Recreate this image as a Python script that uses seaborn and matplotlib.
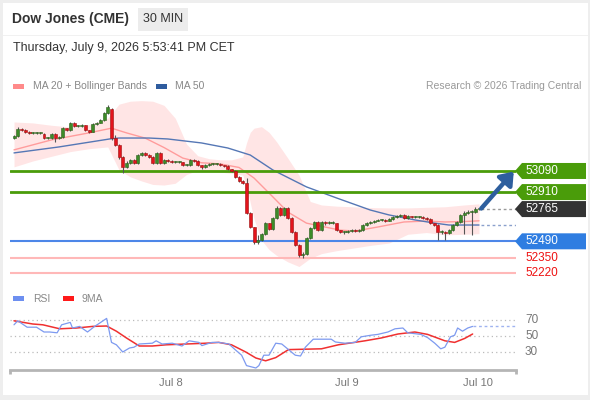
import numpy as np
import pandas as pd
import matplotlib
matplotlib.use("Agg")
import matplotlib.pyplot as plt
from matplotlib.patches import Rectangle, Polygon
import seaborn as sns

# ---------------- data ----------------
opens = [53375,53390,53450,53440,53425,53415,53415,53415,53405,53370,
 53370,53405,53370,53380,53455,53440,53500,53475,53475,53480,
 53440,53425,53490,53500,53525,53585,53620,53370,53310,53210,
 53125,53160,53185,53160,53225,53245,53225,53210,53160,53245,
 53160,53185,53175,53165,53165,53165,53140,53140,53185,53175,
 53140,53125,53140,53150,53150,53150,53140,53135,53105,53090,
 53040,53005,52990,52730,52610,52485,52500,52555,52645,52595,
 52690,52775,52715,52775,52690,52570,52460,52375,52380,52520,
 52605,52655,52585,52655,52645,52645,52645,52585,52570,52570,
 52580,52585,52580,52585,52630,52645,52655,52665,52670,52670,
 52665,52680,52700,52705,52715,52690,52705,52700,52700,52700,
 52690,52680,52645,52630,52570,52570,52560,52585,52630,52655,
 52715,52730,52740,52740,52765]
closes = [53390,53450,53440,53425,53415,53415,53415,53415,53370,53370,
 53405,53370,53380,53455,53440,53500,53475,53475,53480,53440,
 53425,53490,53500,53525,53585,53635,53370,53310,53210,53125,
 53160,53185,53160,53225,53245,53225,53210,53160,53245,53160,
 53185,53175,53165,53165,53165,53140,53140,53185,53175,53140,
 53125,53140,53150,53150,53150,53140,53135,53105,53090,53040,
 53005,52990,52730,52610,52485,52500,52555,52645,52595,52690,
 52775,52715,52775,52690,52570,52460,52375,52380,52520,52605,
 52655,52585,52655,52645,52645,52645,52585,52570,52570,52580,
 52585,52580,52585,52630,52645,52655,52665,52670,52670,52665,
 52680,52700,52705,52715,52690,52705,52700,52700,52700,52690,
 52680,52645,52630,52570,52570,52560,52585,52630,52655,52715,
 52730,52740,52740,52765,52765]
highs = [53400,53465,53455,53445,53430,53425,53425,53425,53410,53380,
 53415,53410,53390,53465,53460,53510,53505,53485,53490,53485,
 53440,53495,53510,53535,53595,53650,53630,53395,53320,53215,
 53175,53195,53195,53235,53255,53250,53235,53215,53255,53255,
 53195,53190,53180,53175,53175,53170,53150,53195,53190,53180,
 53145,53150,53160,53160,53160,53155,53145,53140,53110,53095,
 53045,53010,53030,52740,52615,52540,52565,52655,52650,52700,
 52790,52780,52785,52780,52700,52575,52465,52395,52530,52615,
 52665,52660,52665,52665,52660,52660,52650,52590,52580,52590,
 52595,52595,52595,52640,52655,52665,52675,52680,52680,52680,
 52690,52710,52715,52725,52720,52715,52710,52710,52710,52705,
 52695,52685,52650,52635,52585,52580,52595,52640,52665,52725,
 52745,52755,52755,52780,52775]
lows = [53360,53380,53430,53415,53405,53405,53405,53405,53360,53360,
 53360,53340,53365,53370,53430,53430,53465,53465,53465,53430,
 53415,53420,53480,53495,53515,53580,53355,53300,53195,53075,
 53115,53150,53150,53150,53215,53215,53200,53150,53150,53150,
 53150,53165,53155,53155,53155,53130,53130,53135,53165,53130,
 53110,53115,53135,53140,53140,53130,53125,53095,53080,53030,
 52995,52975,52720,52600,52465,52470,52490,52545,52585,52585,
 52680,52705,52705,52680,52560,52450,52355,52350,52370,52510,
 52595,52575,52575,52630,52635,52635,52575,52560,52555,52560,
 52570,52570,52570,52580,52620,52640,52650,52660,52660,52655,
 52660,52670,52690,52695,52680,52680,52690,52690,52690,52680,
 52670,52635,52620,52500,52555,52505,52550,52575,52620,52645,
 52555,52720,52545,52735,52755]

# MA20 (bar index, value)
ma20_idx = [0,10,20,26,30,35,40,45,50,55,60,64,69,73,78,87,91,97,104,110,115,121,124]
ma20_val = [53270,53355,53415,53455,53415,53370,53290,53200,53160,53150,53120,53030,
            52870,52740,52645,52585,52578,52612,52655,52663,52655,52660,52665]

# Bollinger bands (bar index, upper, lower)
bb_idx = [0,5,10,15,20,25,28,31,34,37,40,43,46,49,52,55,58,61,62,63,64,66,68,70,73,76,
          79,82,86,90,95,100,105,110,115,120,124]
bb_up = [53508,53500,53480,53465,53485,53540,53660,53685,53690,53685,53650,53540,
         53320,53220,53195,53185,53185,53210,53330,53420,53455,53468,53420,53340,53200,53055,
         52830,52800,52790,52785,52778,52775,52775,52780,52785,52800,52810]
bb_lo = [53125,53175,53215,53255,53280,53295,53100,53040,53005,52975,52970,52985,
         53060,53095,53090,53080,53070,53055,52960,52820,52680,52500,52420,52370,52315,52275,
         52345,52385,52410,52430,52455,52475,52550,52565,52545,52550,52555]

# MA50
ma50_idx = [0,12,25.5,28,36,41,50,57,63,69,78,86,95,100,107,112,116,124]
ma50_val = [53244,53295,53363,53371,53371,53363,53329,53286,53226,53099,52954,52860,
            52757,52715,52672,52646,52629,52629]

# RSI and its 9MA
rsi_idx = [0,1,3.5,6,8,9.5,11.5,12.7,15,15.6,17.5,19.6,21.5,22.8,24.7,26,27.3,29,30.8,32,
           33.4,36.9,37.9,39.5,42.2,44.8,46.7,49.3,50.1,52.8,54.6,57.3,59.2,60.7,62,64.5,
           65.3,66.6,68,69.8,71.4,73.2,75,76.4,77.7,79.8,82,84.6,85.7,88.3,91,92.6,95.2,
           97,99.7,101.6,103.7,105,108.5,110.3,112.2,113.8,114.9,116.4,117.5,118.3,119.6,
           121,122.3]
rsi_val = [64,69,61,61,55,55,54,64,67,60,62,55,62,66,72,42,39,30,35,36,
           40,41,44,40,41,37.5,44,42,38,42,42,40,32,26,13,10,
           13,26,26,41,40,33,26,25,36,46,46,46,42.5,41,42,49,51,
           52,55,59,60,54,52,48,41,34,36,49,51,60,56,
           60,62]
ma9_idx = [0,5,7.7,12.2,16.7,21,24.7,27.3,30,33.4,36.9,40.6,45.9,51.2,54.6,58,61.8,64.5,
           67.1,69.8,73.2,82,86.5,93.6,97.9,102.4,106.9,110.3,114.9,117.5,120.2,122.3]
ma9_val = [69,65,64,59,60,62,62.5,56,47.5,37.5,37.5,39,40,41,42,39,30,22.5,
           19,23,33,34,39,44,47.5,52.5,55,52,44,42,47,52.5]

# key levels
res_levels = [53090, 52910]
sup_level = 52490
low_levels = [52350, 52220]
last_price = 52765
rsi_grid = [70, 50, 30]
date_ticks = [41.9, 88.8, 123.7]
date_labels = ["Jul 8", "Jul 9", "Jul 10"]

# ---------------- style ----------------
sns.set_theme(style="white")
plt.rcParams['font.family'] = ['Liberation Sans', 'DejaVu Sans']

W, H = 590, 400
fig = plt.figure(figsize=(W / 100, H / 100), dpi=100)
fig.patch.set_facecolor('#eeeeee')

def fx(px):
    return px / W

def fy(py):
    return 1 - py / H

# white card
fig.patches.append(Rectangle((fx(3), fy(395)), fx(585), (392) / H, transform=fig.transFigure,
                             facecolor='white', edgecolor='none', zorder=-10))
fig.patches.append(Rectangle((fx(3), fy(36)), fx(585), 1 / H, transform=fig.transFigure,
                             facecolor='#f1f1f1', edgecolor='none', zorder=-9))

# header
fig.text(fx(12), fy(19), "Dow Jones (CME)", fontsize=10, fontweight='bold', color='#333333',
         va='center', ha='left')
fig.patches.append(Rectangle((fx(138), fy(31)), fx(50), 23 / H, transform=fig.transFigure,
                             facecolor='#ececec', edgecolor='none'))
fig.text(fx(163), fy(19.5), "30 MIN", fontsize=9, color='#333333', va='center', ha='center')
fig.text(fx(13), fy(48), "Thursday, July 9, 2026 5:53:41 PM CET", fontsize=9, color='#333333',
         va='center', ha='left')

# legend row
fig.patches.append(Rectangle((fx(13), fy(89)), fx(11), 5 / H, transform=fig.transFigure,
                             facecolor='#ff8a8a', edgecolor='none'))
fig.text(fx(33), fy(86), "MA 20 + Bollinger Bands", fontsize=7.5, color='#888888', va='center')
fig.patches.append(Rectangle((fx(156), fy(89)), fx(11), 5 / H, transform=fig.transFigure,
                             facecolor='#2f5c9e', edgecolor='none'))
fig.text(fx(175), fy(86), "MA 50", fontsize=7.5, color='#888888', va='center')
fig.text(fx(581), fy(86), "Research \u00a9 2026 Trading Central", fontsize=7.5, color='#999999',
         va='center', ha='right')

# ---------------- price panel ----------------
x_lo, x_hi = -4 / 3.75, 502 / 3.75
ax = fig.add_axes([fx(10), fy(282), fx(506), 187 / H])
ax.set_xlim(x_lo, x_hi)
ax.set_ylim(52143, 53738)
ax.set_facecolor('none')
for s in ax.spines.values():
    s.set_visible(False)
ax.set_xticks([])
ax.set_yticks([])

ax.fill_between(bb_idx, bb_lo, bb_up, color='#ffe1e1', alpha=0.85, linewidth=0, zorder=1)
sns.lineplot(x=ma20_idx, y=ma20_val, ax=ax, color='#ff9c9c', linewidth=1, zorder=2,
             legend=False)
sns.lineplot(x=ma50_idx, y=ma50_val, ax=ax, color='#5577b5', linewidth=1, zorder=2,
             legend=False)

for lv in res_levels:
    ax.axhline(lv, color='#4a9c0a', linewidth=2, zorder=3)
ax.axhline(sup_level, color='#4d86e8', linewidth=1.5, zorder=3)
for lv in low_levels:
    ax.axhline(lv, color='#ffb8b8', linewidth=1.5, zorder=3)

df = pd.DataFrame({'o': opens, 'h': highs, 'l': lows, 'c': closes})
df['i'] = np.arange(len(df))
up = df['c'] >= df['o']
ax.vlines(df['i'], df['l'], df['h'], color='#555555', linewidth=0.8, zorder=4)
body_h = np.maximum((df['c'] - df['o']).abs(), 7)
body_b = np.minimum(df['o'], df['c'])
ax.bar(df['i'][up], body_h[up], bottom=body_b[up], width=0.8, color='#3d8b28',
       edgecolor='#2a5e1c', linewidth=0.4, zorder=5)
ax.bar(df['i'][~up], body_h[~up], bottom=body_b[~up], width=0.8, color='#e3141c',
       edgecolor='#9c1010', linewidth=0.4, zorder=5)

n_last = len(df) - 1
ax.hlines(last_price, n_last + 0.5, x_hi, color='#999999', linestyles=(0, (2, 2)),
          linewidth=1, zorder=3)
ax.hlines(ma50_val[-1], n_last + 0.5, x_hi, color='#8aa0cc', linestyles=(0, (2, 2)),
          linewidth=1, zorder=3)

ax.annotate("", xy=(x_hi - 0.6, res_levels[0] - 5), xytext=(n_last + 0.6, last_price + 5),
            arrowprops=dict(arrowstyle='-|>,head_length=0.6,head_width=0.45', color='#2e5f9e',
                            lw=3.2, shrinkA=0, shrinkB=0), zorder=6)

# right tags
ytr = ax.get_yaxis_transform()
halfh = 8 * 8.53
tip = 1.0 - 1 / 506
bl = (522 - 10) / 506
br = (586 - 10) / 506
tags = [(res_levels[0], '#4a9c0a'), (res_levels[1], '#4a9c0a'), (last_price, '#333333'),
        (sup_level, '#2f7de1')]
for lv, col in tags:
    poly = Polygon([(tip, lv), (bl, lv + halfh), (br, lv + halfh), (br, lv - halfh),
                    (bl, lv - halfh)], closed=True, transform=ytr, facecolor=col,
                   edgecolor='none', clip_on=False, zorder=7)
    ax.add_patch(poly)
    ax.text((525 - 10) / 506, lv, f"{lv}", transform=ytr, color='white', fontsize=8.5,
            va='center', ha='left', zorder=8, clip_on=False)
for lv in low_levels:
    ax.text((525 - 10) / 506, lv, f"{lv}", transform=ytr, color='#ee1111', fontsize=8.5,
            va='center', ha='left', zorder=8, clip_on=False)

# ---------------- RSI panel ----------------
fig.patches.append(Rectangle((fx(13), fy(301)), fx(11), 5 / H, transform=fig.transFigure,
                             facecolor='#6d8ff0', edgecolor='none'))
fig.text(fx(33), fy(298.5), "RSI", fontsize=7.5, color='#888888', va='center')
fig.patches.append(Rectangle((fx(63), fy(301)), fx(11), 5 / H, transform=fig.transFigure,
                             facecolor='#ff1a1a', edgecolor='none'))
fig.text(fx(82), fy(298.5), "9MA", fontsize=7.5, color='#888888', va='center')

ar = fig.add_axes([fx(10), fy(370), fx(506), 70 / H])
ar.set_xlim(x_lo, x_hi)
ar.set_ylim(7.5, 95)
ar.set_facecolor('none')
for k, s in ar.spines.items():
    s.set_visible(k == 'bottom')
ar.spines['bottom'].set_color('#b5b5b5')
ar.spines['bottom'].set_linewidth(2)
for g in rsi_grid:
    ar.axhline(g, color='#bbbbbb', linestyle=(0, (1, 2.5)), linewidth=0.9, zorder=1)
    ar.text((525 - 10) / 506, g, str(g), transform=ar.get_yaxis_transform(), fontsize=8.5,
            color='#777777', va='center', ha='left', clip_on=False)

sns.lineplot(x=ma9_idx, y=ma9_val, ax=ar, color='#f03030', linewidth=1.1, zorder=3,
             legend=False)
sns.lineplot(x=rsi_idx, y=rsi_val, ax=ar, color='#7d9af0', linewidth=0.9, zorder=4,
             legend=False)
ar.hlines(rsi_val[-1], rsi_idx[-1], x_hi, color='#9fb3f0', linestyles=(0, (2, 2)),
          linewidth=1, zorder=3)

# end ticks of the time axis
for xe in (x_lo, x_hi):
    ar.plot([xe, xe], [0, -0.06], transform=ar.get_xaxis_transform(), color='#b5b5b5',
            linewidth=2, clip_on=False, solid_capstyle='butt')

ar.set_yticks([])
ar.set_xticks(date_ticks)
ar.set_xticklabels(date_labels)
ar.tick_params(axis='x', length=0, pad=6, labelsize=8, labelcolor='#777777')

fig.savefig("out.png", dpi=100, facecolor=fig.get_facecolor())
